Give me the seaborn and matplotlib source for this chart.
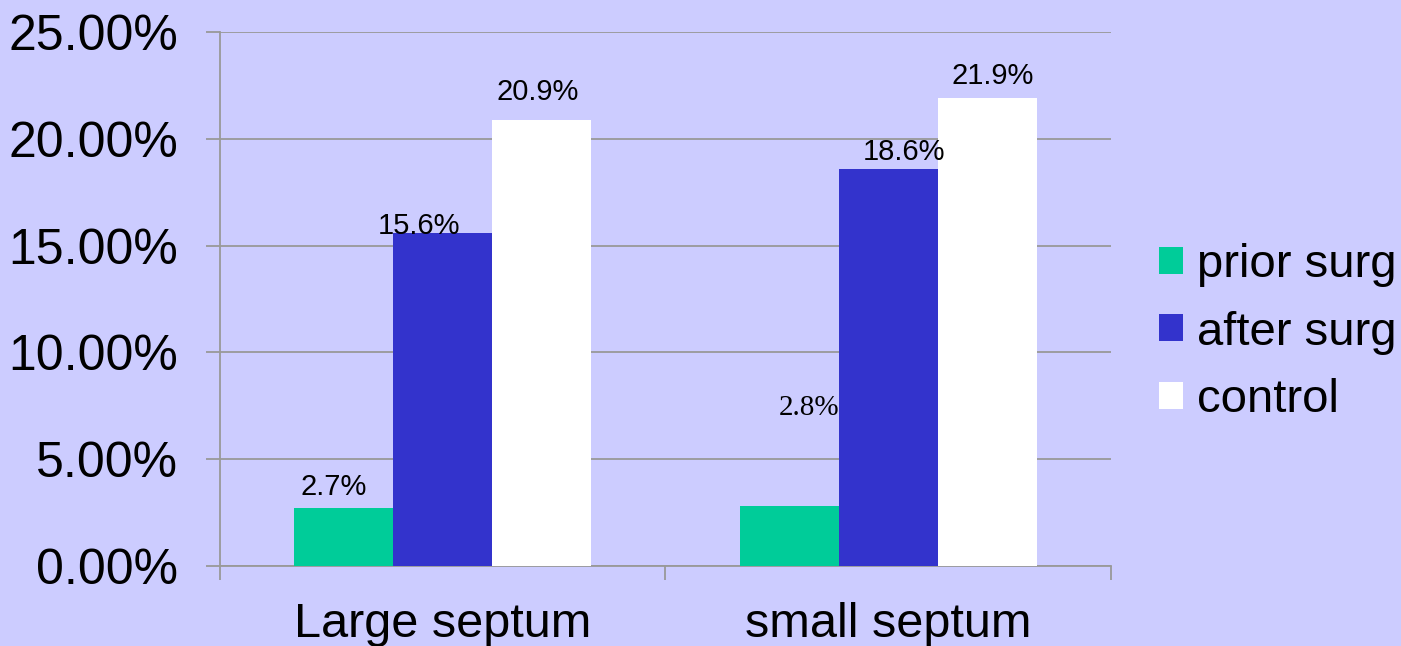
import pandas as pd
import matplotlib.pyplot as plt
import seaborn as sns
from matplotlib.patches import Patch
from matplotlib.ticker import FuncFormatter, MultipleLocator

# data
groups = ["Large septum", "small septum"]
series = ["prior surg", "after surg", "control"]
prior_surg = [2.7, 2.8]
after_surg = [15.6, 18.6]
control = [20.9, 21.9]

colors = ["#00CC99", "#3333CC", "#FFFFFF"]
bg = "#CCCCFF"
grid_c = "#999999"

# long form table for seaborn
df = pd.DataFrame(
    {
        "group": groups * 3,
        "series": [s for s in series for _ in groups],
        "value": prior_surg + after_surg + control,
    }
)

sns.set_style("white")
plt.rcParams["font.family"] = ["Liberation Sans", "DejaVu Sans"]
plt.rcParams["text.color"] = "black"
plt.rcParams["xtick.color"] = "black"
plt.rcParams["ytick.color"] = "black"

fig = plt.figure(figsize=(14.01, 6.46), dpi=100, facecolor=bg)
ax = fig.add_axes([0.157, 0.1238, 0.636, 0.8267])
ax.set_facecolor(bg)

sns.barplot(
    data=df,
    x="group",
    y="value",
    hue="series",
    hue_order=series,
    palette=colors,
    width=0.667,
    saturation=1,
    edgecolor="none",
    linewidth=0,
    legend=False,
    ax=ax,
    zorder=3,
)

ax.set_ylim(0, 25)
ax.set_xlim(-0.5, 1.5)
ax.yaxis.set_major_locator(MultipleLocator(5))
ax.yaxis.set_major_formatter(FuncFormatter(lambda v, p: f"{v:.2f}%"))
ax.grid(axis="y", color=grid_c, linewidth=1.3, zorder=0)
ax.set_axisbelow(True)
ax.set_xlabel("")
ax.set_ylabel("")

# x ticks on category borders, labels in the middle
ax.set_xticks([-0.5, 0.5, 1.5], minor=True)
ax.tick_params(axis="x", which="minor", bottom=True, length=10, width=1.3, color=grid_c, direction="out")
ax.tick_params(axis="x", which="major", bottom=True, length=0, labelsize=35, pad=26)
ax.tick_params(axis="y", left=True, length=10, width=1.3, color=grid_c, direction="out", labelsize=36, pad=20)

for side in ["top", "right"]:
    ax.spines[side].set_visible(False)
for side in ["left", "bottom"]:
    ax.spines[side].set_color(grid_c)
    ax.spines[side].set_linewidth(1.3)

# value labels, nudged (points) like the original slide
nudge = {
    (0, 0): (-7, 5, "Liberation Sans"),
    (0, 1): (-17, -5.5, "Liberation Sans"),
    (0, 2): (-3, 10, "Liberation Sans"),
    (1, 0): (14, 61.5, "Liberation Serif"),
    (1, 1): (11, 2, "Liberation Sans"),
    (1, 2): (4, 6, "Liberation Sans"),
}
for i, cont in enumerate(ax.containers):
    for j, bar in enumerate(cont):
        dx, dy, fam = nudge[(j, i)]
        h = bar.get_height()
        ax.annotate(
            f"{h:.1f}%",
            (bar.get_x() + bar.get_width() / 2, h),
            xytext=(dx, dy),
            textcoords="offset points",
            ha="center",
            va="bottom",
            fontsize=21,
            family=fam,
            color="black",
            zorder=5,
        )

handles = [Patch(facecolor=c, edgecolor="none") for c in colors]
fig.legend(
    handles,
    series,
    loc="center left",
    bbox_to_anchor=(0.8273, 0.485),
    borderaxespad=0,
    borderpad=0,
    frameon=False,
    fontsize=34,
    handlelength=0.5,
    handleheight=0.5,
    handletextpad=0.3,
    labelspacing=0.5,
)

fig.savefig("out.png", dpi=100, facecolor=bg)
